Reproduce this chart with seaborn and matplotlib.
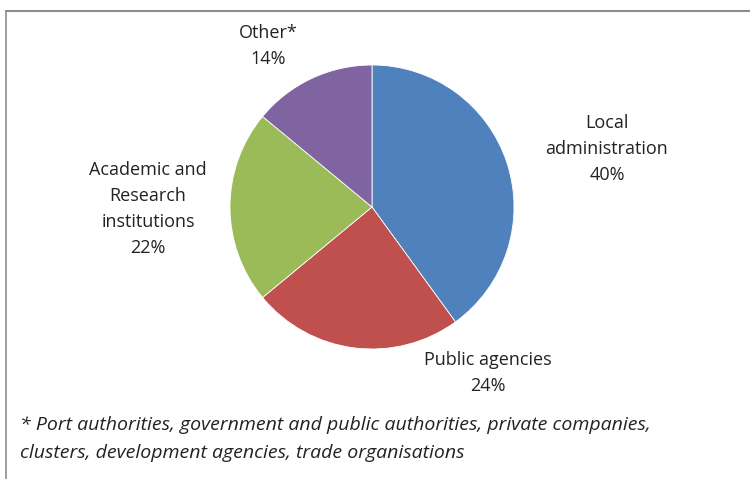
import matplotlib
matplotlib.use("Agg")
import matplotlib.pyplot as plt
import seaborn as sns
from matplotlib.lines import Line2D

# data
categories = ["Local\nadministration", "Public agencies", "Academic and\nResearch\ninstitutions", "Other*"]
shares = [40, 24, 22, 14]
colors = ["#4F81BD", "#C0504D", "#9BBB59", "#8064A2"]
footnote = ("* Port authorities, government and public authorities, private companies,\n"
            "clusters, development agencies, trade organisations")

sns.set_theme(style="white")
plt.rcParams["font.family"] = ["Open Sans", "DejaVu Sans"]

W, H = 750, 479
fig = plt.figure(figsize=(W / 100, H / 100), dpi=100)

# pie: centre (372, 207) px, radius 142 px
r = 142
ax = fig.add_axes([(372 - r) / W, (H - 207 - r) / H, 2 * r / W, 2 * r / H])
ax.pie(shares, colors=colors, startangle=90, counterclock=False,
       wedgeprops=dict(linewidth=0.6, edgecolor="white"))
ax.set_aspect("equal")
ax.set_xlim(-1, 1)
ax.set_ylim(-1, 1)
ax.axis("off")

# labels placed like the original
label_pos = [(607, 149), (488, 373), (148, 209), (268, 46)]
for name, val, (px, py) in zip(categories, shares, label_pos):
    fig.text(px / W, 1 - py / H, f"{name}\n{val}%", ha="center", va="center",
             fontsize=13, color="#222222", linespacing=1.58)

# footnote
fig.text(20 / W, 1 - 439 / H, footnote, ha="left", va="center", fontsize=14,
         style="italic", color="#222222", linespacing=1.72)

# chart border (top and left)
fig.add_artist(Line2D([6 / W, 1], [1 - 11 / H, 1 - 11 / H], color="#8c8c8c", lw=1.5,
                      transform=fig.transFigure))
fig.add_artist(Line2D([6 / W, 6 / W], [0, 1 - 11 / H], color="#8c8c8c", lw=1.2,
                      transform=fig.transFigure))

fig.savefig("out.png", dpi=100)
